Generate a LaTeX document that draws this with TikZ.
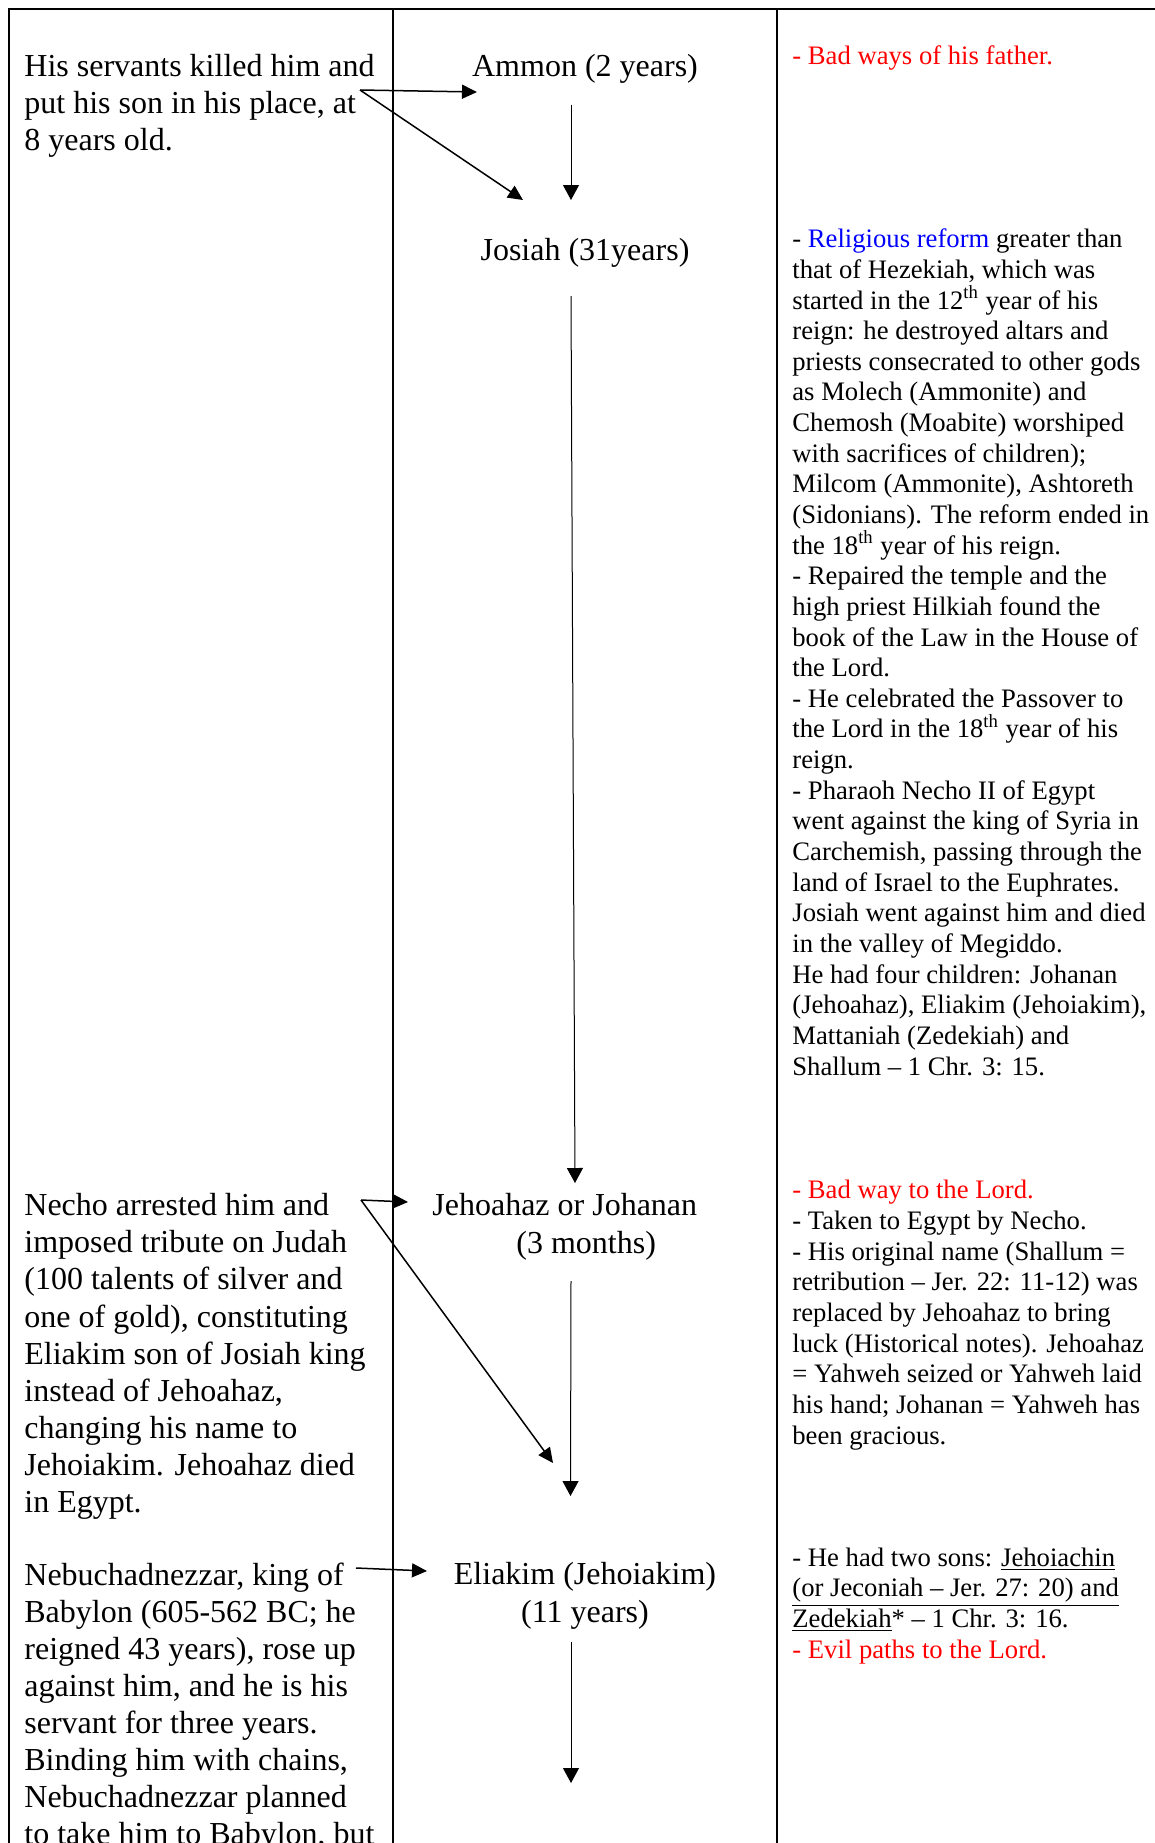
\documentclass[tikz,border=0pt]{standalone}
\usepackage{fontspec}
\setmainfont{Liberation Serif}
\usepackage{xcolor}
\usepackage{tikz}
\usetikzlibrary{calc}
\usetikzlibrary{arrows.meta}

\begin{document}
\begin{tikzpicture}[x=0.5pt,y=-0.5pt,
        leftcol/.style={anchor=base west, align=left, inner sep=0pt, font=\fontsize{16}{18.55}\selectfont},
        kingname/.style={anchor=base, align=center, inner sep=0pt, font=\fontsize{16}{18.55}\selectfont},
        rightcol/.style={anchor=base west, align=left, inner sep=0pt, font=\fontsize{13.33}{15.32}\selectfont},
        thickarr/.style={line width=0.75pt, -{Triangle[length=7.5pt,width=7pt]}},
        thinarr/.style={line width=0.5pt, -{Triangle[length=7.5pt,width=8pt]}}]
        %BATAS
        \useasboundingbox (0,0) rectangle (1155,1843);

        %TABEL
        \draw[line width=1pt] (1155,9) -- (9,9) -- (9,1843);
        \draw[line width=0.9pt] (393,9) -- (393,1843);
        \draw[line width=0.9pt] (777,9) -- (777,1843);

        %KOORDINAT
        \coordinate (A) at (360,90);
        \coordinate (A1) at (477,92);
        \coordinate (A2) at (523,200);
        \coordinate (B) at (571,104.6);
        \coordinate (B1) at (571,200);
        \coordinate (C) at (571,296);
        \coordinate (C1) at (575,1183);
        \coordinate (D) at (361,1200);
        \coordinate (D1) at (408,1202);
        \coordinate (D2) at (553,1463);
        \coordinate (E) at (571,1281);
        \coordinate (E1) at (570.5,1496);
        \coordinate (F) at (356,1568);
        \coordinate (F1) at (427,1571);
        \coordinate (G) at (571,1641.5);
        \coordinate (G1) at (571,1783);

        %KIRI (base = baris terakhir)
        \node[leftcol] (Servants) at (24,150.2) {His servants killed him and\\put his son in his place, at\\8 years old.};
        \node[leftcol] (Necho) at (24,1512.5) {Necho arrested him and\\imposed tribute on Judah\\(100 talents of silver and\\one of gold), constituting\\Eliakim son of Josiah king\\instead of Jehoahaz,\\changing his name to\\Jehoiakim. Jehoahaz died\\in Egypt.};
        \node[leftcol] (Nebu) at (24,1844.7) {Nebuchadnezzar, king of\\Babylon (605-562 BC; he\\reigned 43 years), rose up\\against him, and he is his\\servant for three years.\\Binding him with chains,\\Nebuchadnezzar planned\\to take him to Babylon, but};

        %RAJA
        \node[kingname] (Ammon) at (585,76) {Ammon (2 years)};
        \node[kingname] (Josiah) at (585,260) {Josiah (31years)};
        \node[leftcol] (Jehoahaz) at (432,1253) {Jehoahaz or Johanan\\\hspace*{42pt}(3 months)};
        \node[kingname] (Eliakim) at (585,1622) {Eliakim (Jehoiakim)\\(11 years)};

        %KANAN
        \node[rightcol, text=red] (Father) at (792,64.3) {- Bad ways of his father.};
        \node[rightcol] (Reform) at (792,1075) {- \textcolor{blue}{Religious reform} greater than\\that of Hezekiah, which was\\started in the 12\textsuperscript{th} year of his\\reign: he destroyed altars and\\priests consecrated to other gods\\as Molech (Ammonite) and\\Chemosh (Moabite) worshiped\\with sacrifices of children);\\Milcom (Ammonite), Ashtoreth\\(Sidonians). The reform ended in\\the 18\textsuperscript{th} year of his reign.\\- Repaired the temple and the\\high priest Hilkiah found the\\book of the Law in the House of\\the Lord.\\- He celebrated the Passover to\\the Lord in the 18\textsuperscript{th} year of his\\reign.\\- Pharaoh Necho II of Egypt\\went against the king of Syria in\\Carchemish, passing through the\\land of Israel to the Euphrates.\\Josiah went against him and died\\in the valley of Megiddo.\\He had four children: Johanan\\(Jehoahaz), Eliakim (Jehoiakim),\\Mattaniah (Zedekiah) and\\Shallum – 1 Chr. 3: 15.};
        \node[rightcol] (Shallum) at (792,1444) {\textcolor{red}{- Bad way to the Lord.}\\- Taken to Egypt by Necho.\\- His original name (Shallum =\\retribution – Jer. 22: 11-12) was\\replaced by Jehoahaz to bring\\luck (Historical notes). Jehoahaz\\= Yahweh seized or Yahweh laid\\his hand; Johanan = Yahweh has\\been gracious.};
        \node[rightcol] (Sons) at (792,1658) {- He had two sons: \underline{Jehoiachin}\\\underline{(or Jeconiah – Jer. 27: 20) and}\\\underline{Zedekiah}* – 1 Chr. 3: 16.\\\textcolor{red}{- Evil paths to the Lord.}};

        %PANAH
        \draw[thickarr] (A) -- (A1);
        \draw[thickarr] (A) -- (A2);
        \draw[thinarr] (B) -- (B1);
        \draw[thinarr] (C) -- (C1);
        \draw[thickarr] (D) -- (D1);
        \draw[thickarr] (D) -- (D2);
        \draw[thinarr] (E) -- (E1);
        \draw[thickarr] (F) -- (F1);
        \draw[thinarr] (G) -- (G1);
    \end{tikzpicture}
\end{document}
